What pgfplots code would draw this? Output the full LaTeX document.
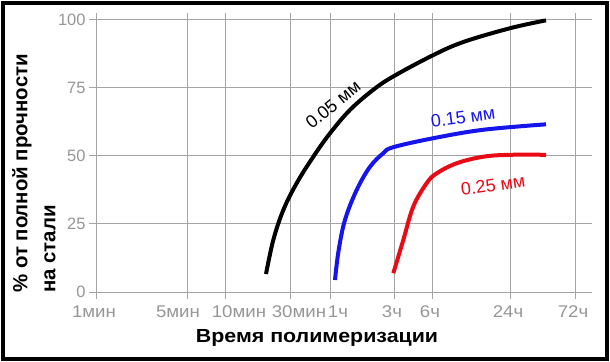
\documentclass[border=0pt]{standalone}
\usepackage{pgfplots}
\pgfplotsset{compat=1.18}
\usepackage{fontspec}
\setmainfont{Liberation Sans}
\definecolor{gridgray}{RGB}{165,165,165}
\definecolor{ticktext}{RGB}{150,150,150}
\definecolor{cblue}{RGB}{20,20,235}
\definecolor{cred}{RGB}{232,10,20}
\newcommand{\xl}[2]{\hspace{#1bp}\scalebox{1.1}[1]{#2}}
\begin{document}
\begin{tikzpicture}
\useasboundingbox (0bp,0bp) rectangle (610bp,362bp);
\begin{axis}[
  at={(96bp,70bp)}, anchor=south west,
  scale only axis, width=496bp, height=279bp,
  xmin=96, xmax=592, ymin=0, ymax=102.5,
  axis line style={draw=none},
  grid=major, major grid style={gridgray, line width=0.9bp},
  tick pos=left, tick align=outside, major tick length=7bp,
  tick style={gridgray, line width=0.9bp},
  xtick={96,187,225,290,330,394,432,510,575},
  xticklabels={\xl{-4}{1мин},\xl{-18}{5мин},\xl{28}{10мин},\xl{18}{30мин},\xl{16}{1ч},\xl{-4}{3ч},\xl{-4}{6ч},\xl{-4}{24ч},\xl{-4}{72ч}},
  ytick={0,25,50,75,100},
  ticklabel style={ticktext},
  /pgf/number format/assume math mode=true,
  xticklabel style={font=\fontsize{17}{17}\selectfont, yshift=-3bp},
  yticklabel style={font=\fontsize{16.5}{16.5}\selectfont},
  clip=false,
]
\addplot[black, line width=4bp, smooth, tension=0.6] coordinates {
(266,6.6) (273.3,19.1) (283.3,30.1) (296.7,40) (313.3,49.7) (330,58.3) (350,66.9) (373.3,74.3) (393.3,79.2) (432,86.8) (463,91.8) (510,96.9) (546,99.8)};
\addplot[cblue, line width=4bp, smooth, tension=0.6] coordinates {
(335,4.4) (338.5,15) (345,26.5) (356.7,37.5) (370,46) (383.3,51) (393.3,53.2) (433.3,56.5) (483.3,59.6) (546,61.6)};
\addplot[cred, line width=4bp, smooth, tension=0.6] coordinates {
(393.3,6.9) (403.3,19.1) (413.3,31.4) (426.7,40) (436.7,43.6) (456.7,47.3) (483.3,49.7) (510,50.4) (546,50.4)};
\node[rotate=39, font=\fontsize{18}{18}\selectfont, black] at (axis cs:333,68.8) {0.05 мм};
\node[rotate=8, font=\fontsize{18}{18}\selectfont, cblue] at (axis cs:463,64.3) {0.15 мм};
\node[rotate=8, font=\fontsize{18}{18}\selectfont, cred] at (axis cs:493,39.3) {0.25 мм};
\end{axis}
\node[rotate=90, anchor=north west, align=left, inner sep=0pt, font=\fontsize{20.5}{28}\selectfont\bfseries] at (12bp,69bp) {\% от полной прочности\\на стали};
\node[font=\fontsize{19}{19}\selectfont\bfseries] at (317bp,24bp) {\scalebox{1.13}[1]{Время полимеризации}};
\draw[line width=3.5bp] (3bp,3bp) rectangle (607bp,359bp);
\end{tikzpicture}
\end{document}
